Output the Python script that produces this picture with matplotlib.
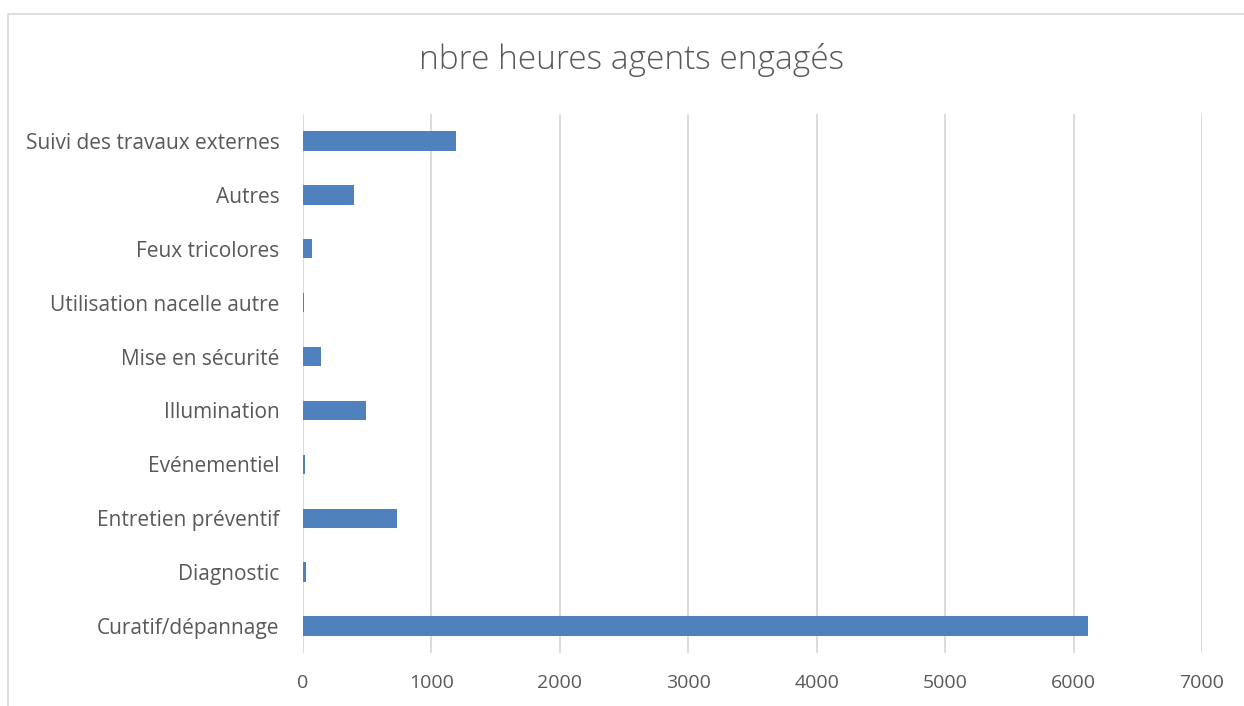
import matplotlib
matplotlib.use("Agg")
import matplotlib.pyplot as plt
from matplotlib.patches import Rectangle

categories = ["Curatif/dépannage", "Diagnostic", "Entretien préventif", "Evénementiel",
              "Illumination", "Mise en sécurité", "Utilisation nacelle autre",
              "Feux tricolores", "Autres", "Suivi des travaux externes"]
values = [6110, 20, 735, 18, 491, 140, 8, 72, 395, 1195]
xticks = [0, 1000, 2000, 3000, 4000, 5000, 6000, 7000]
title = "nbre heures agents engagés"

W, H = 1244, 706
fig = plt.figure(figsize=(W / 100, H / 100), dpi=100)
fig.patch.set_facecolor("white")

# outer chart border
fig.add_artist(Rectangle((8 / W, -0.05), 1.2, (H - 14) / H + 0.05, transform=fig.transFigure,
                         fill=False, edgecolor="#D9D9D9", linewidth=1.2))

left, right = 303 / W, 1202 / W
top, bottom = 1 - 114 / H, 1 - 653 / H
ax = fig.add_axes([left, bottom, right - left, top - bottom])

ypos = list(range(len(categories)))
ax.barh(ypos, values, height=0.36, color="#4F81BD", zorder=3)
ax.set_xlim(0, 7000)
ax.set_ylim(-0.5, len(categories) - 0.5)
ax.set_xticks(xticks)
ax.set_xticklabels([str(t) for t in xticks])
ax.set_yticks(ypos)
ax.set_yticklabels(categories)
ax.grid(axis="x", color="#D9D9D9", linewidth=1.3, zorder=0)
for s in ax.spines.values():
    s.set_visible(False)
ax.tick_params(axis="both", length=0, labelcolor="#595959")
ax.tick_params(axis="x", pad=15, labelsize=14)
ax.tick_params(axis="y", pad=17, labelsize=15)
for lab in ax.get_xticklabels() + ax.get_yticklabels():
    lab.set_fontfamily("Open Sans")

fig.text(0.508, 1 - 60 / H, title, ha="center", va="center", fontsize=24,
         color="#595959", fontfamily="Open Sans", fontweight="light")

fig.savefig("out.png", dpi=100)
